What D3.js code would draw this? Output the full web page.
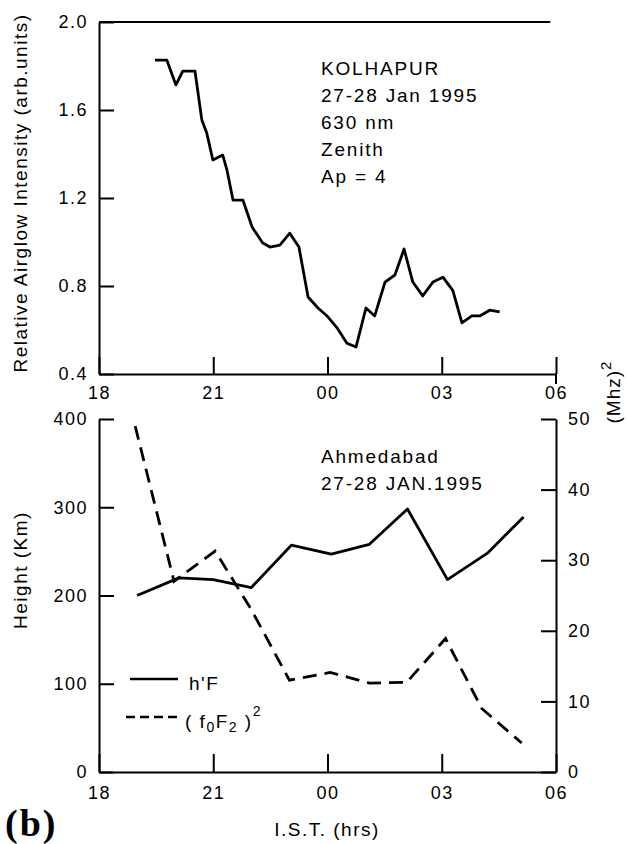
<!DOCTYPE html>
<html><head><meta charset="utf-8">
<script src="https://cdn.jsdelivr.net/npm/d3@7"></script>
<style>
body{margin:0;background:#fff;}
svg{display:block;font-family:"Liberation Sans",Arial,Helvetica,sans-serif;}
</style></head><body>
<svg id="c" width="627" height="844"></svg>
<script>
// ---- data ----
const airglowTime = [19.47,19.78,20.02,20.20,20.52,20.70,20.83,20.99,21.25,21.36,21.52,21.78,22.02,22.30,22.49,22.75,23.01,23.25,23.49,23.75,24.01,24.25,24.51,24.75,25.01,25.24,25.51,25.77,26.01,26.24,26.50,26.77,27.03,27.29,27.53,27.79,28.00,28.26,28.52];
const airglowValue = [1.827,1.827,1.714,1.777,1.777,1.555,1.495,1.373,1.395,1.327,1.19,1.19,1.068,0.995,0.977,0.986,1.04,0.977,0.75,0.70,0.66,0.61,0.54,0.523,0.70,0.664,0.818,0.85,0.968,0.818,0.755,0.818,0.84,0.78,0.632,0.664,0.664,0.69,0.682];
const hFTime = [19.0,20.1,21.0,22.0,23.05,24.1,25.1,26.1,27.15,28.2,29.15];
const hFValue = [200,220,218,209,257,247,258,298,218,248,289];
const foF2Time = [18.95,19.97,21.05,22.0,23.0,24.07,25.1,26.08,27.1,28.05,29.1];
const foF2Value = [49,27,31.3,23,13,14.1,12.6,12.7,18.9,9.0,4.1];
const xTicks = [18,21,24,27,30];
const xTickLabels = ["18","21","00","03","06"];
const airglowTicks = [0.4,0.8,1.2,1.6,2.0];
const heightTicks = [0,100,200,300,400];
const freqTicks = [0,10,20,30,40,50];
const topNotes = ["KOLHAPUR","27-28 Jan 1995","630 nm","Zenith","Ap = 4"];
const bottomNotes = ["Ahmedabad","27-28 JAN.1995"];

const svg = d3.select("#c");
const x = d3.scaleLinear([18,30],[99,556]);
const yTop = d3.scaleLinear([0.4,2.0],[374,22]);
const yH = d3.scaleLinear([0,400],[772,419]);
const yF = d3.scaleLinear([0,50],[772,419]);

function styleAxis(g){
  g.attr("font-family",null).attr("font-size",null);
  g.select(".domain").attr("stroke","#000").attr("stroke-width",2);
  g.selectAll(".tick line").attr("stroke","#000").attr("stroke-width",2);
  g.selectAll(".tick text").attr("fill","#000").style("font-size","18px").style("letter-spacing","1.5px");
}

// top panel
svg.append("g").attr("transform","translate(99,0)")
  .call(d3.axisLeft(yTop).tickValues(airglowTicks).tickFormat(d3.format(".1f")).tickSize(-15).tickSizeOuter(0).tickPadding(11))
  .call(styleAxis);
svg.append("g").attr("transform","translate(0,374)")
  .call(d3.axisBottom(x).tickValues(xTicks).tickFormat((d,i)=>xTickLabels[i]).tickSize(-17).tickSizeOuter(0).tickPadding(12))
  .call(styleAxis);
svg.append("line").attr("x1",x(18)).attr("x2",x(29.85)).attr("y1",yTop(2.0)).attr("y2",yTop(2.0)).attr("stroke","#000").attr("stroke-width",2);
svg.append("line").attr("x1",x(30)).attr("x2",x(30)).attr("y1",yTop(0.4)).attr("y2",yTop(0.4)+10).attr("stroke","#000").attr("stroke-width",2);

const lineTop = d3.line().x(d=>x(d[0])).y(d=>yTop(d[1]));
svg.append("path").attr("d",lineTop(airglowTime.map((t,i)=>[t,airglowValue[i]])))
  .attr("fill","none").attr("stroke","#000").attr("stroke-width",2.8).attr("stroke-linejoin","round");

svg.append("text").attr("transform","translate(27,193) rotate(-90)").attr("text-anchor","middle")
  .style("font-size","19px").style("letter-spacing","1.5px").text("Relative Airglow Intensity (arb.units)");

svg.append("g").selectAll("text").data(topNotes).join("text")
  .attr("x",321).attr("y",(d,i)=>75+i*27).style("font-size","19px").style("letter-spacing","1.8px").text(d=>d);

// bottom panel
svg.append("g").attr("transform","translate(99,0)")
  .call(d3.axisLeft(yH).tickValues(heightTicks).tickSize(-15).tickSizeOuter(0).tickPadding(11))
  .call(styleAxis);
svg.append("g").attr("transform","translate(556,0)")
  .call(d3.axisRight(yF).tickValues(freqTicks).tickSize(-15).tickSizeOuter(0).tickPadding(12))
  .call(styleAxis);
svg.append("g").attr("transform","translate(0,772)")
  .call(d3.axisBottom(x).tickValues(xTicks).tickFormat((d,i)=>xTickLabels[i]).tickSize(-18).tickSizeOuter(0).tickPadding(14))
  .call(styleAxis);

const lineH = d3.line().x(d=>x(d[0])).y(d=>yH(d[1]));
const lineF = d3.line().x(d=>x(d[0])).y(d=>yF(d[1]));
svg.append("path").attr("d",lineH(hFTime.map((t,i)=>[t,hFValue[i]])))
  .attr("fill","none").attr("stroke","#000").attr("stroke-width",2.8).attr("stroke-linejoin","round");
svg.append("path").attr("d",lineF(foF2Time.map((t,i)=>[t,foF2Value[i]])))
  .attr("fill","none").attr("stroke","#000").attr("stroke-width",2.8).attr("stroke-dasharray","14,8");

svg.append("g").selectAll("text").data(bottomNotes).join("text")
  .attr("x",321).attr("y",(d,i)=>463+i*27).style("font-size","19px").style("letter-spacing","1.8px").text(d=>d);

// legend
svg.append("line").attr("x1",130).attr("x2",178).attr("y1",679).attr("y2",679).attr("stroke","#000").attr("stroke-width",2.5);
svg.append("text").attr("x",189).attr("y",690).style("font-size","19px").style("letter-spacing","1.5px").text("h'F");
svg.append("line").attr("x1",126).attr("x2",178).attr("y1",717).attr("y2",717).attr("stroke","#000").attr("stroke-width",2.5).attr("stroke-dasharray","9,5");
const lt = svg.append("text").attr("x",185).attr("y",728).style("font-size","19px").style("letter-spacing","1.5px");
lt.append("tspan").text("( f");
lt.append("tspan").attr("dy",4).style("font-size","14px").text("0");
lt.append("tspan").attr("dy",-4).text("F");
lt.append("tspan").attr("dy",4).style("font-size","14px").text("2");
lt.append("tspan").attr("dy",-4).text(" )");
lt.append("tspan").attr("dy",-12).style("font-size","14px").text("2");

// axis titles
svg.append("text").attr("transform","translate(27,570) rotate(-90)").attr("text-anchor","middle")
  .style("font-size","19px").style("letter-spacing","1.5px").text("Height (Km)");
const mt = svg.append("text").attr("transform","translate(620,392) rotate(-90)").attr("text-anchor","middle")
  .style("font-size","19px").style("letter-spacing","1px");
mt.append("tspan").text("(Mhz)");
mt.append("tspan").attr("dy",-9).style("font-size","15px").text("2");

svg.append("text").attr("x",327).attr("y",836).attr("text-anchor","middle")
  .style("font-size","19px").style("letter-spacing","1.5px").text("I.S.T. (hrs)");
svg.append("text").attr("x",5).attr("y",836)
  .style("font-family","'Liberation Serif','Times New Roman',serif").style("font-weight","bold")
  .style("font-size","38px").style("letter-spacing","2px").text("(b)");
</script>
</body></html>
